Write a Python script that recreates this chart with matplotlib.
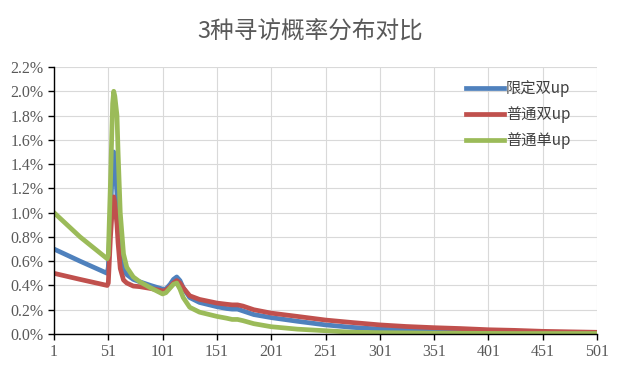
import matplotlib
matplotlib.use("Agg")
import matplotlib.pyplot as plt
from matplotlib.ticker import FuncFormatter

plt.rcParams['font.family'] = ['Noto Sans CJK SC', 'DejaVu Sans']

# values (percent), at breakpoints along the x axis
x = [1, 25, 50, 51, 53, 55, 56, 57, 59, 60, 62, 65, 68, 74, 80, 90, 101, 104, 108,
     111, 114, 117, 120, 126, 135, 151, 160, 165, 170, 175, 185, 201, 225, 251,
     275, 301, 325, 351, 375, 401, 425, 451, 475, 501]

limited_double = [0.70, 0.60, 0.50, 0.55, 1.00, 1.42, 1.50, 1.42, 1.15, 0.92, 0.66,
                  0.53, 0.49, 0.45, 0.43, 0.40, 0.37, 0.37, 0.41, 0.45, 0.47, 0.44,
                  0.38, 0.30, 0.26, 0.225, 0.21, 0.205, 0.205, 0.19, 0.16, 0.135,
                  0.105, 0.075, 0.055, 0.04, 0.032, 0.026, 0.02, 0.015, 0.012,
                  0.01, 0.008, 0.007]

normal_double = [0.50, 0.45, 0.40, 0.42, 0.80, 1.08, 1.13, 1.08, 0.90, 0.75, 0.54,
                 0.445, 0.42, 0.395, 0.39, 0.375, 0.355, 0.36, 0.39, 0.42, 0.44,
                 0.42, 0.38, 0.315, 0.285, 0.255, 0.245, 0.24, 0.24, 0.23, 0.20,
                 0.172, 0.145, 0.115, 0.095, 0.075, 0.062, 0.052, 0.045, 0.035,
                 0.03, 0.022, 0.018, 0.014]

normal_single = [1.00, 0.80, 0.62, 0.65, 1.25, 1.90, 2.00, 1.96, 1.80, 1.50, 1.00,
                 0.66, 0.55, 0.47, 0.43, 0.38, 0.33, 0.34, 0.38, 0.41, 0.42, 0.37,
                 0.30, 0.22, 0.18, 0.145, 0.13, 0.12, 0.12, 0.11, 0.085, 0.06,
                 0.04, 0.027, 0.015, 0.011, 0.009, 0.007, 0.006, 0.005, 0.004,
                 0.004, 0.004, 0.004]

labels = ['限定双up', '普通双up', '普通单up']
colors = ['#4F81BD', '#C0504D', '#9BBB59']

x_ticks = [1, 51, 101, 151, 201, 251, 301, 351, 401, 451, 501]
y_ticks = [0.0, 0.2, 0.4, 0.6, 0.8, 1.0, 1.2, 1.4, 1.6, 1.8, 2.0, 2.2]

fig = plt.figure(figsize=(6.21, 3.74), dpi=100)
ax = fig.add_axes([54 / 621, 40 / 374, 543 / 621, 267 / 374])

for ys, lab, c in zip([limited_double, normal_double, normal_single], labels, colors):
    ax.plot(x, ys, color=c, lw=3.4, label=lab, solid_joinstyle='round')

ax.set_xlim(1, 501)
ax.set_ylim(0, 2.2)
ax.set_xticks(x_ticks)
ax.set_yticks(y_ticks)
ax.yaxis.set_major_formatter(FuncFormatter(lambda v, p: f'{v:.1f}%'))
ax.grid(True, color='#d9d9d9', lw=0.8)
ax.set_axisbelow(True)

for s in ['top', 'right']:
    ax.spines[s].set_visible(False)
for s in ['left', 'bottom']:
    ax.spines[s].set_color('black')
    ax.spines[s].set_linewidth(1.0)

ax.tick_params(axis='both', direction='out', length=4, width=1, colors='black',
               labelcolor='#595959')
for t in ax.get_xticklabels() + ax.get_yticklabels():
    t.set_fontfamily(['Liberation Serif', 'DejaVu Serif'])
    t.set_fontsize(11.5)

fig.suptitle('3种寻访概率分布对比', x=0.5, y=0.945, fontsize=17, color='#595959')

leg = ax.legend(loc='upper left', frameon=False, fontsize=11,
                handlelength=2.5, handletextpad=0.1, labelspacing=0.6,
                borderaxespad=0)
for t in leg.get_texts():
    t.set_color('#404040')
leg.set_bbox_to_anchor((460 / 621, 1 - 74 / 374), transform=fig.transFigure)

fig.savefig('out.png', dpi=100)
